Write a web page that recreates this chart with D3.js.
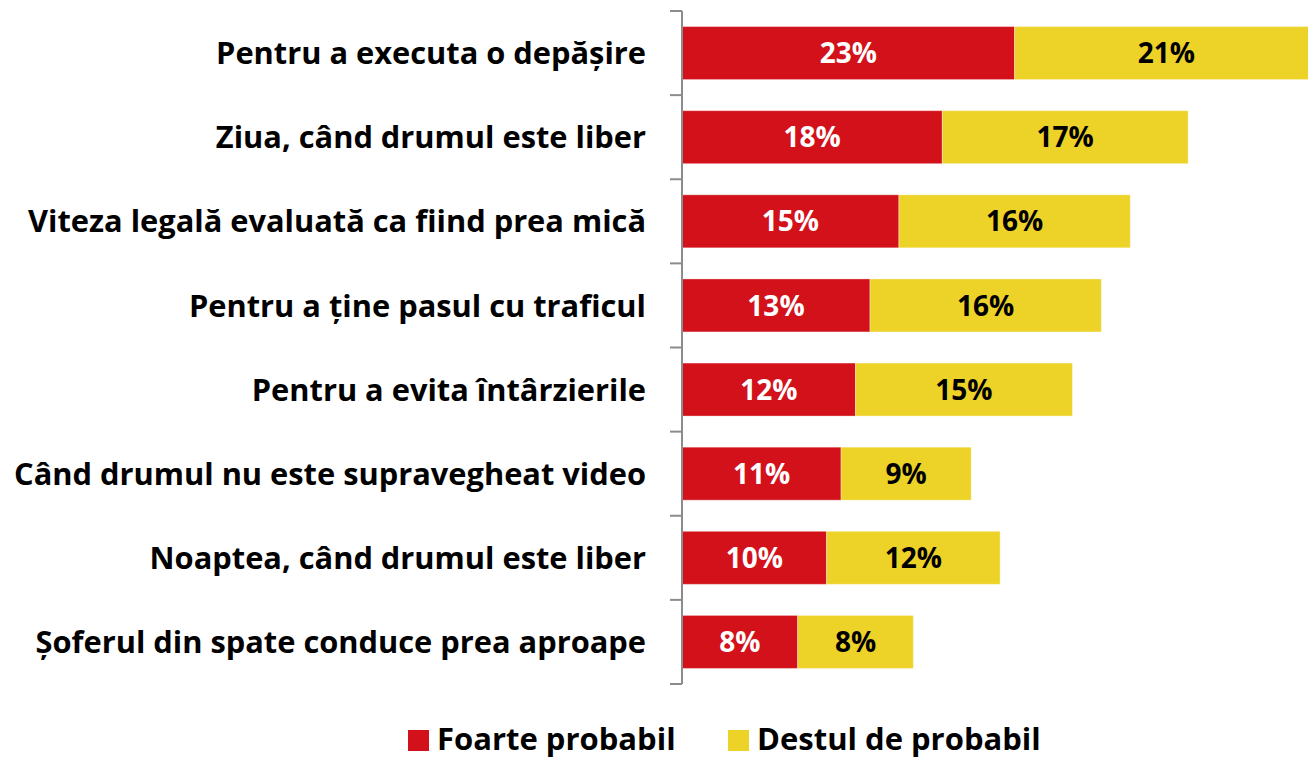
<!DOCTYPE html>
<html>
<head>
<meta charset="utf-8">
<script src="https://cdn.jsdelivr.net/npm/d3@7.9.0/dist/d3.min.js"></script>
<style>
  body { margin: 0; background: #fff; }
  svg { display: block; font-family: 'Open Sans', Lato, sans-serif; font-weight: bold; }
</style>
</head>
<body>
<div id="chart"></div>
<script>
// Data
const categories = [
  'Pentru a executa o depășire',
  'Ziua, când drumul este liber',
  'Viteza legală evaluată ca fiind prea mică',
  'Pentru a ține pasul cu traficul',
  'Pentru a evita întârzierile',
  'Când drumul nu este supravegheat video',
  'Noaptea, când drumul este liber',
  'Șoferul din spate conduce prea aproape'
];
const foarteProbabil = [23, 18, 15, 13, 12, 11, 10, 8];
const destulProbabil = [21, 17, 16, 16, 15, 9, 12, 8];
const seriesNames = ['Foarte probabil', 'Destul de probabil'];
const seriesColors = ['#D2111B', '#EDD227'];

const width = 1308;
const height = 759;
const axisX = 682;

const svg = d3.select('#chart')
  .append('svg')
  .attr('width', width)
  .attr('height', height);

const x = d3.scaleLinear().domain([0, 50]).range([axisX, axisX + 50 * 14.46]);
const y = d3.scaleBand().domain(categories).range([11, 684]).paddingInner(0.37).paddingOuter(0.185);

// stack the two series
const rows = categories.map((c, i) => ({ cat: c, a: foarteProbabil[i], b: destulProbabil[i] }));
const stacked = d3.stack().keys(['a', 'b'])(rows);

svg.append('g')
  .selectAll('g')
  .data(stacked)
  .join('g')
  .attr('fill', (d, i) => seriesColors[i])
  .selectAll('rect')
  .data(d => d)
  .join('rect')
  .attr('x', d => x(d[0]))
  .attr('y', d => y(d.data.cat))
  .attr('width', d => x(d[1]) - x(d[0]))
  .attr('height', y.bandwidth())
  .attr('stroke', '#fff')
  .attr('stroke-opacity', 0.35)
  .attr('stroke-width', 1);

// value labels
svg.append('g')
  .selectAll('g')
  .data(stacked)
  .join('g')
  .attr('fill', (d, i) => i === 0 ? '#fff' : '#000')
  .selectAll('text')
  .data(d => d)
  .join('text')
  .attr('x', d => (x(d[0]) + x(d[1])) / 2)
  .attr('y', d => y(d.data.cat) + y.bandwidth() / 2)
  .attr('dy', '0.36em')
  .attr('text-anchor', 'middle')
  .style('font-size', '28px')
  .text(d => (d[1] - d[0]) + '%');

// category axis: line with ticks at band boundaries
const axis = svg.append('g').attr('stroke', '#8c8c8c').attr('stroke-width', 2);
axis.append('line')
  .attr('x1', axisX).attr('x2', axisX)
  .attr('y1', y.range()[0]).attr('y2', y.range()[1]);
const bounds = categories.map(c => y(c) - y.step() * y.paddingInner() / 2).concat([y.range()[1]]);
axis.selectAll('line.tick')
  .data(bounds)
  .join('line')
  .attr('class', 'tick')
  .attr('x1', axisX - 12).attr('x2', axisX)
  .attr('y1', d => d).attr('y2', d => d);

// category labels
svg.append('g')
  .selectAll('text')
  .data(categories)
  .join('text')
  .attr('x', 646)
  .attr('y', d => y(d) + y.bandwidth() / 2)
  .attr('dy', '0.36em')
  .attr('text-anchor', 'end')
  .attr('fill', '#000')
  .style('font-size', '30.8px')
  .text(d => d);

// legend (sits at the very bottom edge, like the original)
const legendX = [408, 728];
const legend = svg.append('g')
  .selectAll('g')
  .data(seriesNames)
  .join('g')
  .attr('transform', (d, i) => `translate(${legendX[i]}, 730)`);
legend.append('rect')
  .attr('width', 21).attr('height', 21)
  .attr('fill', (d, i) => seriesColors[i]);
legend.append('text')
  .attr('x', 29)
  .attr('y', 20)
  .style('font-size', '31px')
  .attr('fill', '#000')
  .text(d => d);
</script>
</body>
</html>
